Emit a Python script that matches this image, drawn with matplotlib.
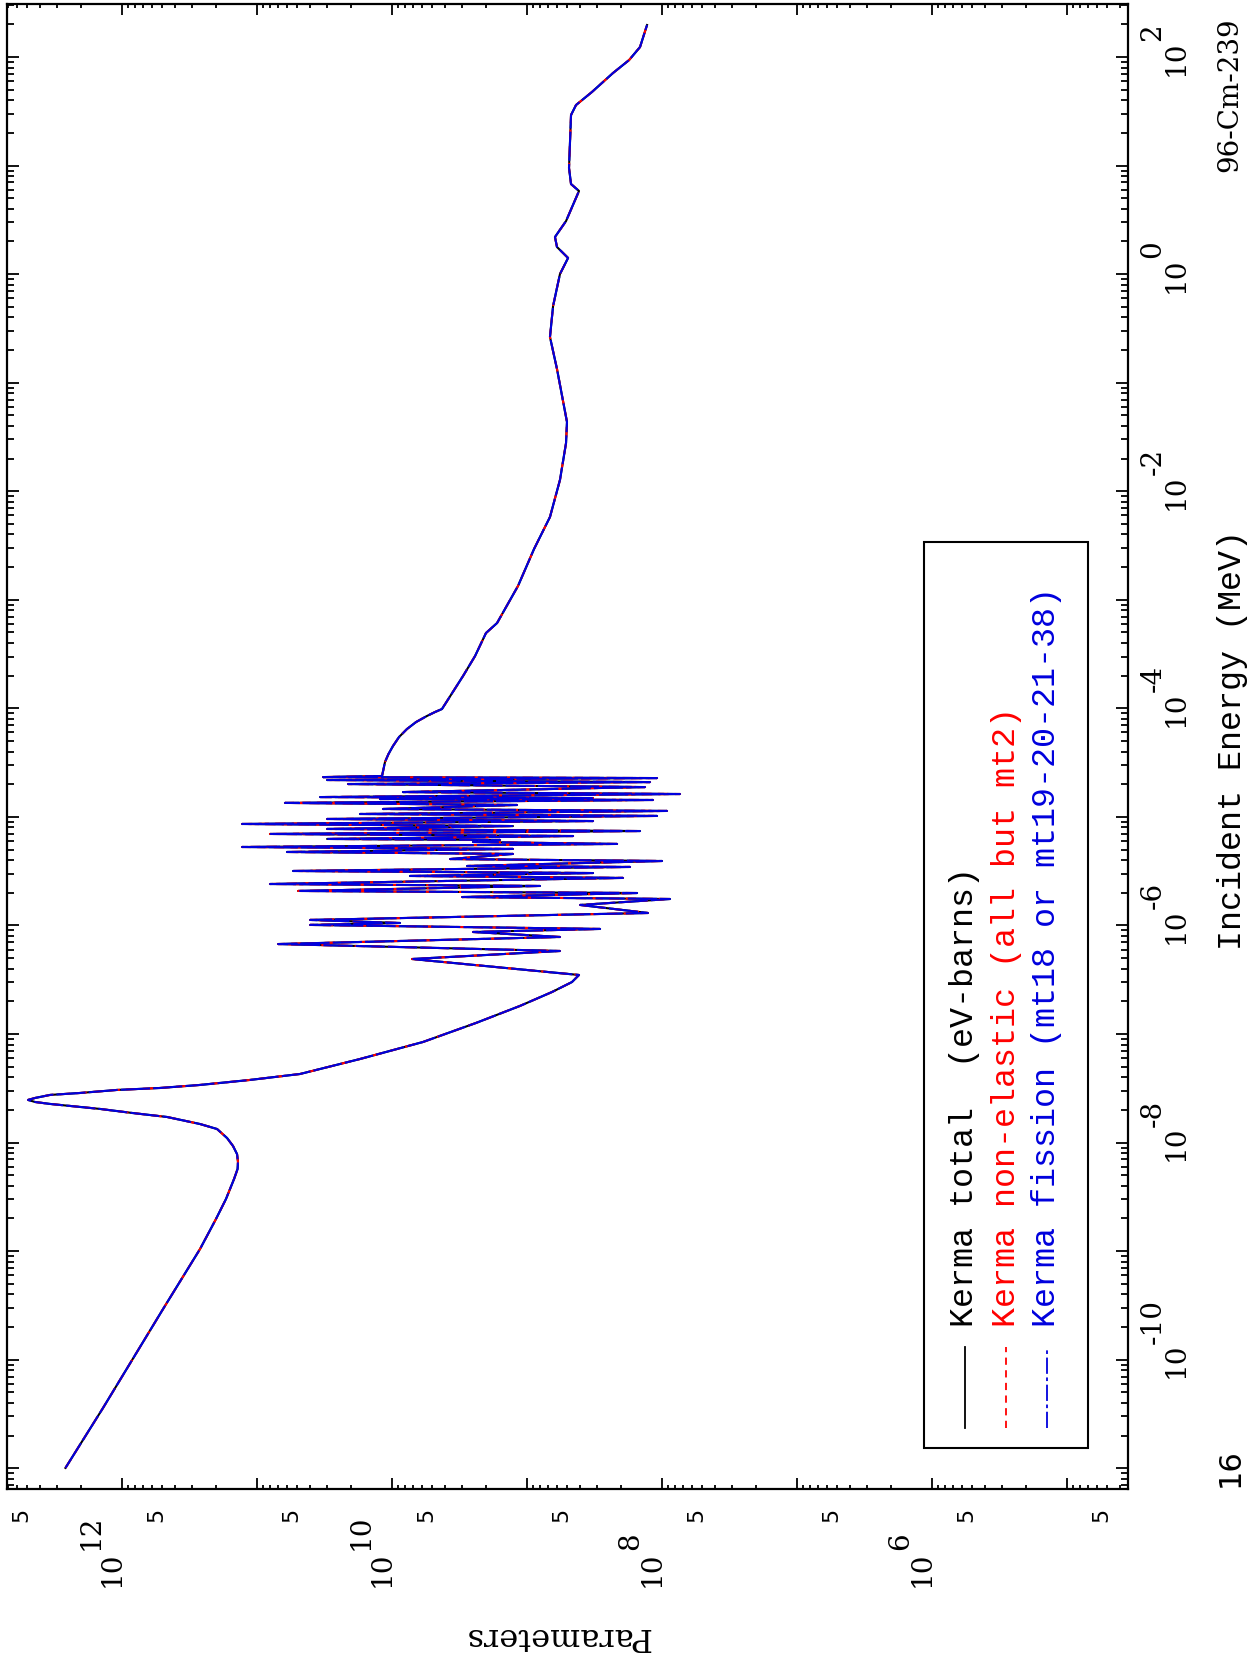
import numpy as np
import matplotlib
matplotlib.use('Agg')
import matplotlib.pyplot as plt
from matplotlib.ticker import LogLocator, NullFormatter
from matplotlib.lines import Line2D
from matplotlib.patches import Rectangle

# kerma curve, stored as log10 values
# energy in MeV, kerma in eV-barns
log_energy = [
    # thermal part and the first big resonance
    -10.997, -10.445, -9.533, -8.980, -8.704, -8.520, -8.335, -8.243, -8.179,
    -8.106, -8.031, -7.958, -7.875, -7.829, -7.764, -7.728, -7.690, -7.663,
    -7.644, -7.626, -7.607, -7.589, -7.561, -7.543, -7.515, -7.497, -7.469,
    -7.423, -7.368, -7.230, -7.073, -6.898, -6.741, -6.613, -6.521, -6.456,
    # resolved resonance region
    -6.309, -6.235, -6.171, -6.106, -6.060, -6.032, -5.995, -5.977, -5.949,
    -5.885, -5.811, -5.756, -5.738, -5.701, -5.682, -5.636, -5.618, -5.562,
    -5.544, -5.517, -5.498, -5.461, -5.452, -5.406, -5.388, -5.341, -5.323,
    -5.295, -5.277, -5.249, -5.231, -5.212, -5.203, -5.176, -5.157, -5.130,
    -5.111, -5.084, -5.065, -5.038, -5.019, -4.991, -4.973, -4.945, -4.927,
    -4.890, -4.871, -4.844, -4.835, -4.826, -4.817, -4.789, -4.771, -4.725,
    -4.697, -4.679, -4.660, -4.642, -4.633, -4.623,
    # smooth part up to 200 MeV
    -4.494, -4.420, -4.347, -4.264, -4.190, -4.126, -4.070, -4.034, -4.006,
    -3.702, -3.518, -3.306, -3.214, -2.873, -2.532, -2.237, -1.896, -1.556,
    -1.362, -1.169, -0.874, -0.579, -0.294, 0.001, 0.149, 0.250, 0.342,
    0.489, 0.766, 0.830, 0.978, 1.466, 1.558, 1.678, 1.853, 1.972, 2.092,
    2.295,
]
log_kerma = [
    12.416, 12.138, 11.693, 11.419, 11.301, 11.227, 11.167, 11.141, 11.138,
    11.145, 11.175, 11.219, 11.293, 11.419, 11.664, 11.916, 12.160, 12.382,
    12.530, 12.641, 12.693, 12.641, 12.530, 12.308, 12.034, 11.716, 11.419,
    11.049, 10.678, 10.234, 9.767, 9.375, 9.049, 8.812, 8.664, 8.612,
    9.849, 8.753, 10.841, 8.753, 9.397, 8.456, 10.604, 9.938, 10.604,
    8.101, 8.604, 7.938, 9.478, 8.182, 10.693, 8.901, 10.901, 8.286,
    9.864, 8.508, 10.730, 8.234, 9.441, 7.997, 9.567, 9.101, 10.775,
    9.101, 11.108, 8.330, 9.397, 9.197, 10.478, 8.656, 10.901, 8.160,
    10.478, 9.101, 11.108, 8.508, 10.478, 8.034, 10.234, 7.960, 10.064,
    9.071, 10.790, 8.064, 10.086, 8.508, 10.530, 7.864, 9.916, 8.123,
    10.323, 8.086, 10.478, 8.034, 10.508, 10.071,
    10.049, 10.023, 9.990, 9.945, 9.886, 9.819, 9.738, 9.679, 9.627,
    9.471, 9.382, 9.301, 9.219, 9.064, 8.945, 8.827, 8.753, 8.708,
    8.701, 8.730, 8.775, 8.827, 8.804, 8.753, 8.693, 8.775, 8.790,
    8.708, 8.612, 8.671, 8.686, 8.671, 8.634, 8.516, 8.360, 8.241, 8.160,
    8.108,
]

energy = 10.0 ** np.array(log_energy)
kerma_total = 10.0 ** np.array(log_kerma)
kerma_nonel = kerma_total.copy()      # lies on top of the total
kerma_fission = kerma_total.copy()    # lies on top of the total

legend_labels = ['Kerma total  (eV-barns)',
                 'Kerma non-elastic (all but mt2)',
                 'Kerma fission (mt18 or mt19-20-21-38)']
legend_colors = ['black', 'red', '#0000dd']
energy_label_exps = [2, 0, -2, -4, -6, -8, -10]
kerma_label_exps = [12, 10, 8, 6]
kerma_five_exps = list(range(4, 13))

W, H = 1250, 1658
PT = 0.72  # points per pixel at dpi 100

fig = plt.figure(figsize=(W / 100, H / 100), dpi=100)
ax = fig.add_axes([6.7 / W, 1 - 1490 / H, (1128 - 6.7) / W, (1490 - 5) / H])

# the page is turned: kerma runs along the bottom (reversed), energy up the side
ax.plot(kerma_total, energy, color='black', lw=1.5, zorder=2)
ax.plot(kerma_nonel, energy, color='red', lw=1.5, ls=(0, (5, 3)), zorder=3)
ax.plot(kerma_fission, energy, color=legend_colors[2], lw=1.5,
        ls=(0, (14, 1.5)), zorder=4)

ax.set_xscale('log')
ax.set_yscale('log')
ax.set_xlim(7.1e12, 3.51e4)
ax.set_ylim(6.44e-12, 3.08e2)

for axis in (ax.xaxis, ax.yaxis):
    axis.set_major_locator(LogLocator(base=10, numticks=100))
    axis.set_minor_locator(LogLocator(base=10, subs=np.arange(2, 10), numticks=100))
    axis.set_major_formatter(NullFormatter())
    axis.set_minor_formatter(NullFormatter())
ax.tick_params(which='both', direction='in', top=True, right=True, width=1.3, color='black')
ax.tick_params(axis='x', which='major', length=8)
ax.tick_params(axis='x', which='minor', length=3.2)
ax.tick_params(axis='y', which='major', length=8.5)
ax.tick_params(axis='y', which='minor', length=4.8)
for sp in ax.spines.values():
    sp.set_linewidth(1.6)

serif = 'DejaVu Serif'
mono = 'Liberation Mono'

# kerma tick labels (bottom), turned by 90 degrees
xt = ax.get_xaxis_transform()
for n in kerma_label_exps:
    ax.annotate('10', xy=(10.0 ** n, 0), xycoords=xt, xytext=(-10 * PT, -97 * PT),
                textcoords='offset points', rotation=90, ha='center', va='bottom',
                fontsize=20, family=serif, annotation_clip=False)
    ax.annotate(str(n), xy=(10.0 ** n, 0), xycoords=xt, xytext=(-31 * PT, -60 * PT),
                textcoords='offset points', rotation=90, ha='center', va='bottom',
                fontsize=20, family=serif, annotation_clip=False)
for n in kerma_five_exps:
    ax.annotate('5', xy=(5 * 10.0 ** n, 0), xycoords=xt, xytext=(-6 * PT, -24.5 * PT),
                textcoords='offset points', rotation=90, ha='center', va='center',
                fontsize=16, family='DejaVu Sans', annotation_clip=False)

# energy tick labels (right side)
yt = ax.get_yaxis_transform()
for n in energy_label_exps:
    ax.annotate('10', xy=(1, 10.0 ** n), xycoords=yt, xytext=(48 * PT, 0),
                textcoords='offset points', rotation=90, ha='center', va='center',
                fontsize=20, family=serif, annotation_clip=False)
    ax.annotate(str(n), xy=(1, 10.0 ** n), xycoords=yt, xytext=(25 * PT, 17 * PT),
                textcoords='offset points', rotation=90, ha='center', va='bottom',
                fontsize=20, family=serif, annotation_clip=False)


def fpx(x, y):
    return x / W, 1 - y / H


fig.text(*fpx(1230, 17), '96-Cm-239', rotation=90, ha='center', va='top',
         fontsize=20, family=serif)
fig.text(*fpx(1232, 740), 'Incident Energy (MeV)', rotation=90, ha='center',
         va='center', fontsize=24, family=mono)
fig.text(*fpx(1230, 1468), '16', rotation=90, ha='center', va='center',
         fontsize=22, family='DejaVu Sans')
fig.text(*fpx(557, 1637), 'Parameters', rotation=180, ha='center', va='center',
         fontsize=23, family=serif)

# legend box, drawn by hand because it is turned as well
x0, y0 = fpx(924, 1449)
x1, y1 = fpx(1088, 543)
fig.add_artist(Rectangle((x0, y0), x1 - x0, y1 - y0, transform=fig.transFigure,
                         fill=False, lw=1.5, ec='black'))
styles = ['-', (0, (4, 3)), (0, (9, 2, 2, 2))]
for i, (lab, col) in enumerate(zip(legend_labels, legend_colors)):
    xc = 965 + 41 * i
    lx, ly0 = fpx(xc, 1429)
    _, ly1 = fpx(xc, 1348)
    fig.add_artist(Line2D([lx, lx], [ly0, ly1], transform=fig.transFigure,
                          color=col, lw=1.3, ls=styles[i]))
    fig.text(*fpx(xc, 1327), lab, rotation=90, ha='center', va='bottom',
             fontsize=24, family=mono, color=col)

fig.savefig('out.png', dpi=100)
